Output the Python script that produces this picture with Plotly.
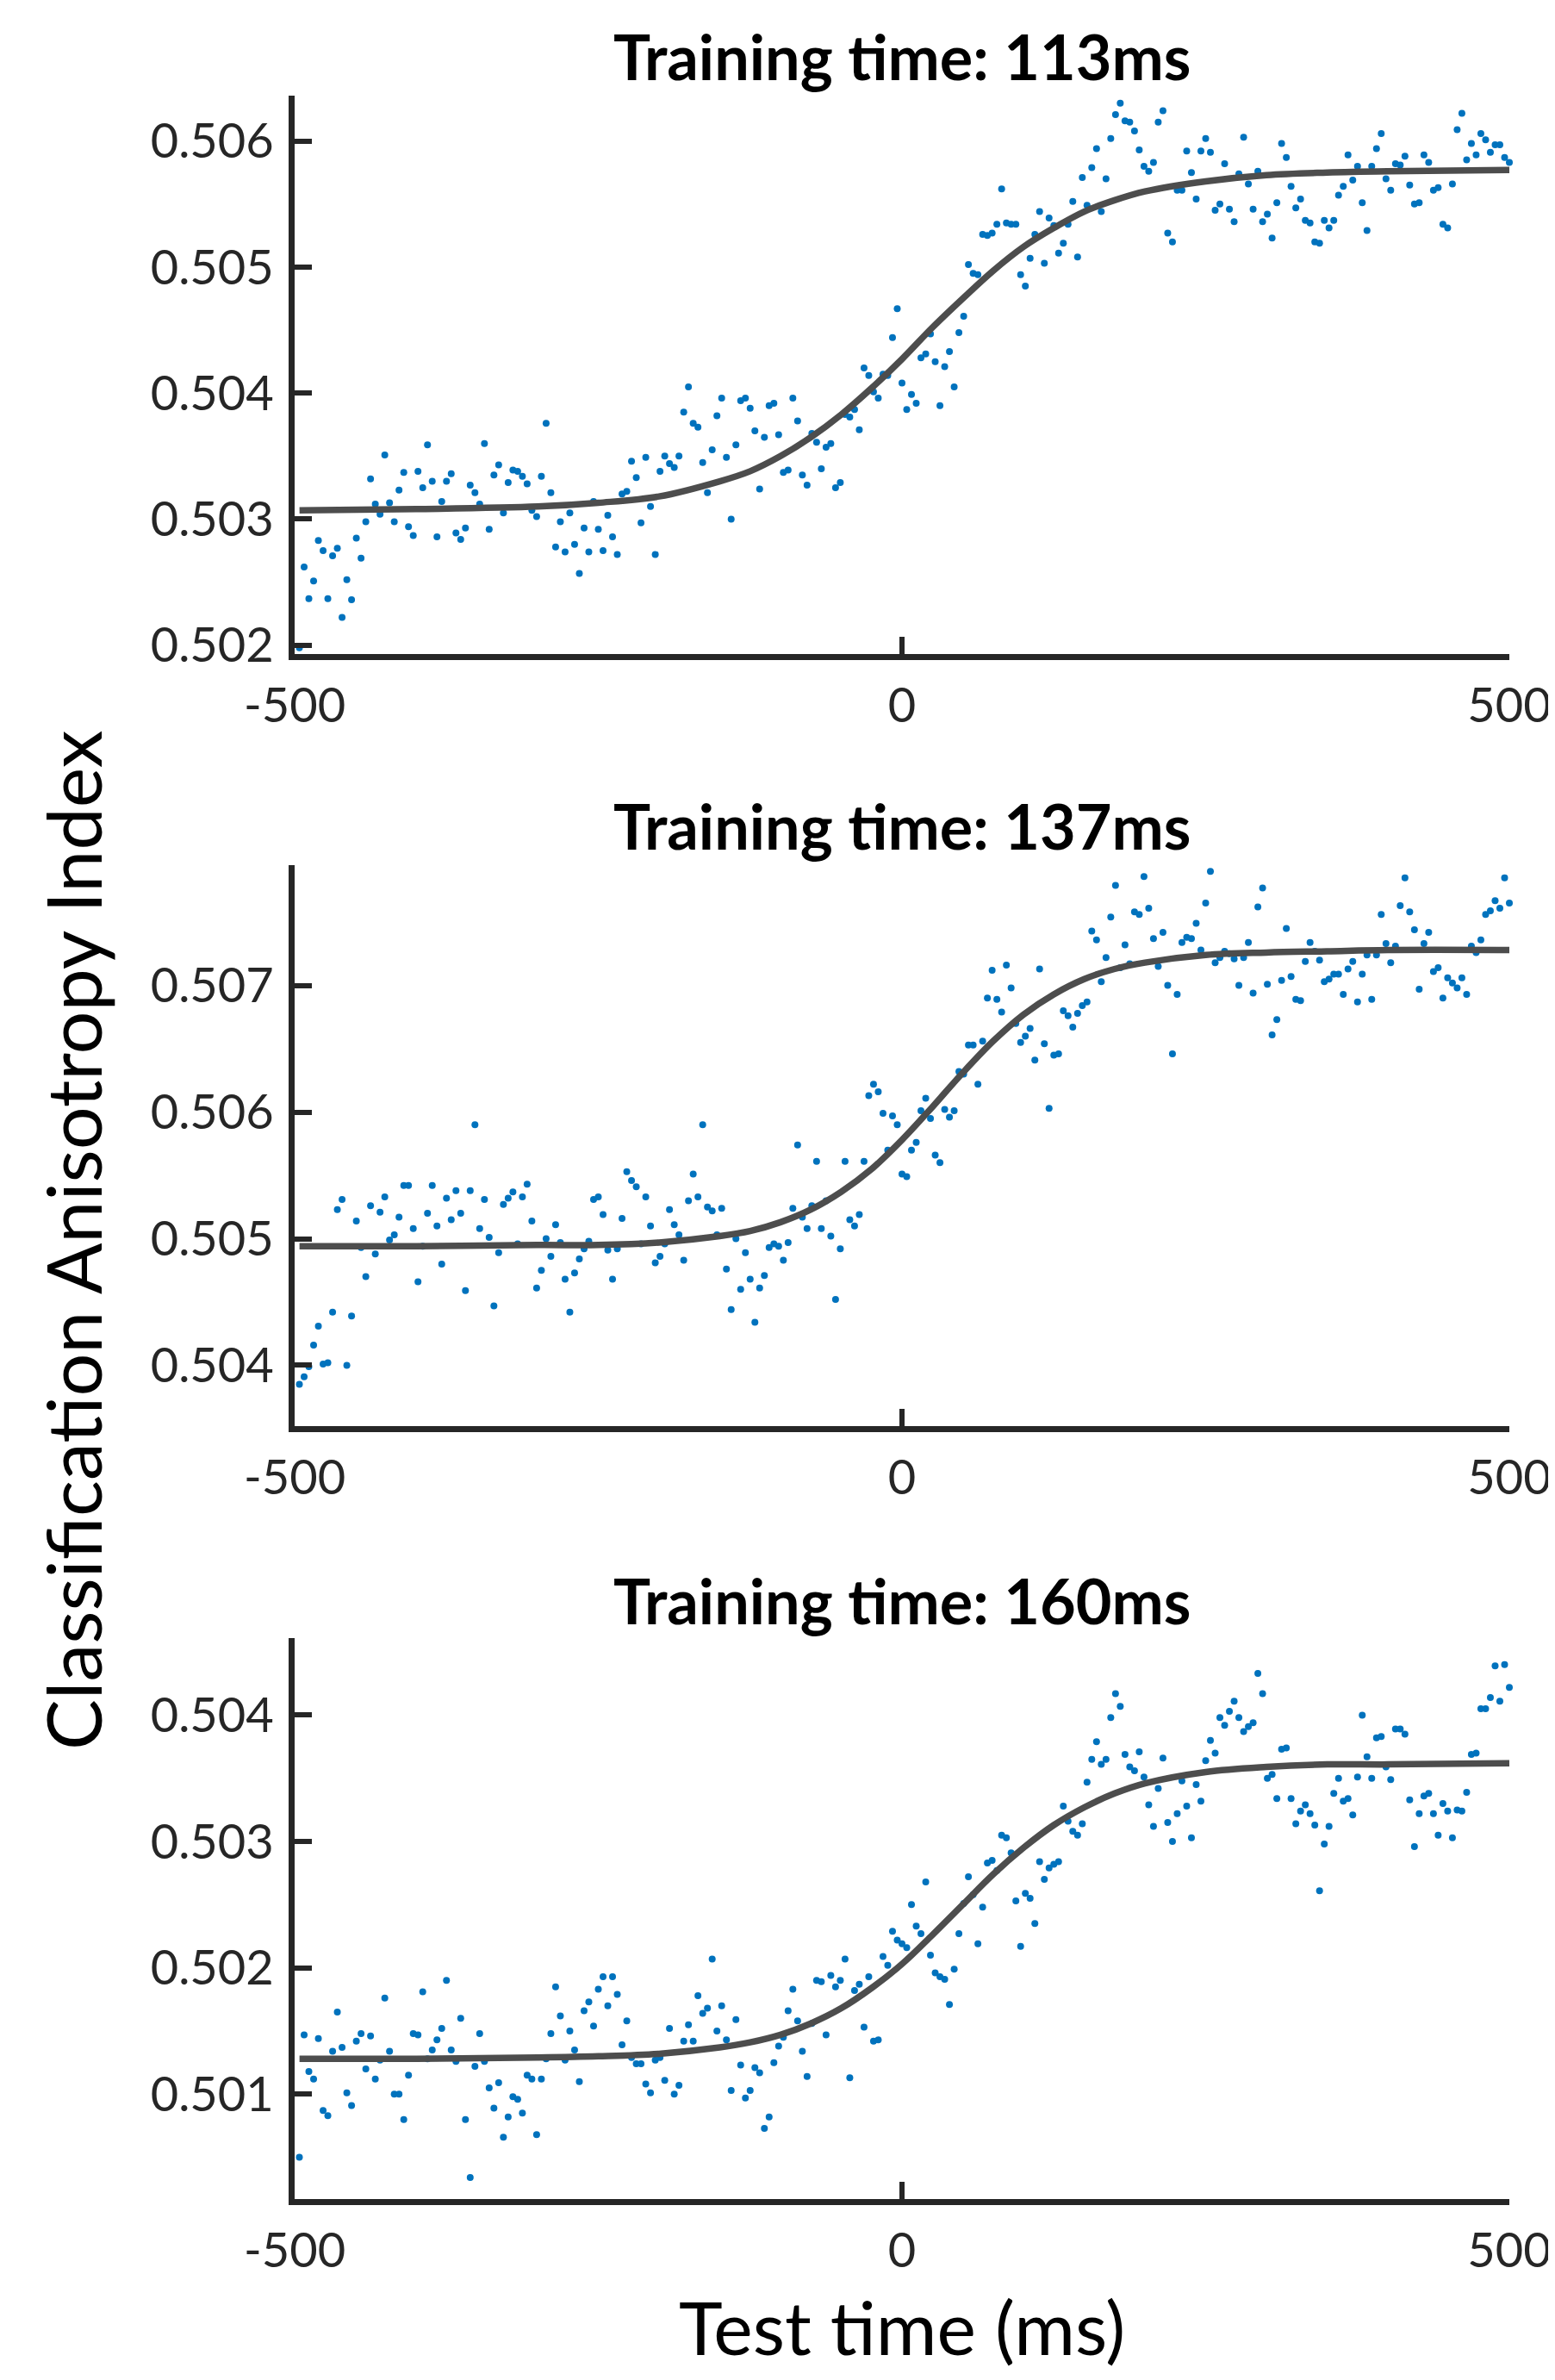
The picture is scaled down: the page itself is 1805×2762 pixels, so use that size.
import numpy as np
import plotly.graph_objects as go

# ---------------- data ----------------
titles = ["Training time: 113ms", "Training time: 137ms", "Training time: 160ms"]
x_label = "Test time (ms)"
y_label = "Classification Anisotropy Index"

x_ticks = [-500, 0, 500]
x_ticktext = ["-500", "0", "500"]
t_start, t_end = -496.09375, 500.0   # time grid of the samples (ms)

p1_values = [
    0.50198, 0.50262, 0.50237, 0.50251, 0.50283, 0.50275, 0.50237, 0.50271, 0.50277, 0.50222,
    0.50252, 0.50236, 0.50285, 0.50269, 0.50298, 0.50332, 0.50312, 0.50304, 0.50351, 0.50313,
    0.50298, 0.50323, 0.50337, 0.50294, 0.50287, 0.50338, 0.50325, 0.50359, 0.50330, 0.50286,
    0.50314, 0.50330, 0.50336, 0.50289, 0.50284, 0.50293, 0.50327, 0.50321, 0.50312, 0.50360,
    0.50292, 0.50335, 0.50343, 0.50305, 0.50329, 0.50339, 0.50338, 0.50334, 0.50328, 0.50307,
    0.50302, 0.50334, 0.50376, 0.50321, 0.50278, 0.50298, 0.50274, 0.50305, 0.50280, 0.50257,
    0.50293, 0.50274, 0.50314, 0.50292, 0.50275, 0.50303, 0.50286, 0.50272, 0.50320, 0.50322,
    0.50346, 0.50333, 0.50297, 0.50349, 0.50310, 0.50272, 0.50338, 0.50350, 0.50344, 0.50341,
    0.50350, 0.50385, 0.50405,
    0.50376, 0.50373, 0.50345, 0.50321, 0.50355, 0.50382, 0.50396,
    0.50349, 0.50300, 0.50359, 0.50394, 0.50396, 0.50388, 0.50370, 0.50324, 0.50365, 0.50390,
    0.50392, 0.50367, 0.50337, 0.50339, 0.50396, 0.50378, 0.50335, 0.50327, 0.50368, 0.50361,
    0.50340, 0.50357, 0.50360, 0.50325, 0.50329, 0.50383, 0.50381, 0.50387, 0.50371, 0.50420,
    0.50414, 0.50401, 0.50396, 0.50415, 0.50414, 0.50444, 0.50467, 0.50408, 0.50387, 0.50399,
    0.50392, 0.50428, 0.50431, 0.50447, 0.50425, 0.50390, 0.50421, 0.50433, 0.50405, 0.50448,
    0.50461, 0.50502, 0.50495, 0.50494, 0.50526, 0.50525, 0.50527, 0.50534, 0.50562, 0.50535,
    0.50534, 0.50534, 0.50494, 0.50485, 0.50507, 0.50526, 0.50544, 0.50503, 0.50539, 0.50533,
    0.50511, 0.50519, 0.50534, 0.50552, 0.50508, 0.50571, 0.50549, 0.50579, 0.50594, 0.50544,
    0.50570, 0.50602, 0.50621, 0.50630, 0.50616, 0.50615, 0.50608, 0.50593, 0.50580, 0.50576,
    0.50583, 0.50615, 0.50624, 0.50527, 0.50520, 0.50561, 0.50561, 0.50592, 0.50575, 0.50554,
    0.50592, 0.50602, 0.50591, 0.50545, 0.50550, 0.50582, 0.50546, 0.50536, 0.50574, 0.50603,
    0.50566, 0.50546, 0.50576, 0.50536, 0.50542, 0.50523, 0.50551, 0.50598, 0.50587, 0.50564,
    0.50547, 0.50554, 0.50537, 0.50535, 0.50520, 0.50519, 0.50537, 0.50531, 0.50537, 0.50557,
    0.50564, 0.50589, 0.50569, 0.50580, 0.50551, 0.50529, 0.50580, 0.50594, 0.50606, 0.50570,
    0.50561, 0.50582, 0.50581, 0.50588, 0.50565, 0.50550, 0.50551, 0.50589, 0.50583, 0.50561,
    0.50563, 0.50534, 0.50531, 0.50566, 0.50609, 0.50622, 0.50585, 0.50598, 0.50589, 0.50606,
    0.50601, 0.50591, 0.50597, 0.50597, 0.50587, 0.50583,
]

p2_values = [
    0.50385, 0.50391, 0.50399, 0.50416, 0.50431, 0.50401, 0.50402, 0.50442, 0.50523, 0.50531,
    0.50400, 0.50439, 0.50514, 0.50493, 0.50470, 0.50526, 0.50488, 0.50521, 0.50533, 0.50499,
    0.50503, 0.50517, 0.50542, 0.50542, 0.50508, 0.50466, 0.50494, 0.50520, 0.50542, 0.50510,
    0.50480, 0.50532, 0.50515, 0.50538, 0.50520, 0.50459, 0.50538, 0.50590, 0.50508, 0.50531,
    0.50501, 0.50447, 0.50489, 0.50527, 0.50532, 0.50537, 0.50496, 0.50533, 0.50543, 0.50514,
    0.50461, 0.50475, 0.50500, 0.50486, 0.50511, 0.50497, 0.50468, 0.50442, 0.50473, 0.50484,
    0.50492, 0.50498, 0.50531, 0.50533, 0.50519, 0.50491, 0.50468, 0.50492, 0.50516, 0.50553,
    0.50546, 0.50541, 0.50496, 0.50533, 0.50510, 0.50481, 0.50486, 0.50496, 0.50523, 0.50511,
    0.50503, 0.50483, 0.50530,
    0.50551, 0.50533, 0.50590, 0.50525, 0.50522, 0.50503, 0.50524,
    0.50476, 0.50444, 0.50500, 0.50460, 0.50489, 0.50468, 0.50434, 0.50461, 0.50471, 0.50493,
    0.50496, 0.50494, 0.50483, 0.50497, 0.50524, 0.50574, 0.50517, 0.50508, 0.50526, 0.50561,
    0.50508, 0.50530, 0.50502, 0.50452, 0.50492, 0.50561, 0.50515, 0.50510, 0.50519, 0.50561,
    0.50613, 0.50622, 0.50616, 0.50599, 0.50570, 0.50597, 0.50590, 0.50551, 0.50549, 0.50570,
    0.50576, 0.50601, 0.50611, 0.50595, 0.50566, 0.50560, 0.50602, 0.50596, 0.50601, 0.50632,
    0.50630, 0.50653, 0.50653, 0.50622, 0.50656, 0.50690, 0.50712, 0.50689, 0.50679, 0.50716,
    0.50698, 0.50670, 0.50655, 0.50660, 0.50666, 0.50641, 0.50713, 0.50654, 0.50603, 0.50645,
    0.50646, 0.50680, 0.50676, 0.50667, 0.50678, 0.50684, 0.50687, 0.50743, 0.50736, 0.50703,
    0.50722, 0.50754, 0.50779, 0.50714, 0.50732, 0.50717, 0.50758, 0.50756, 0.50786, 0.50761,
    0.50737, 0.50715, 0.50742, 0.50700, 0.50646, 0.50693, 0.50734, 0.50738, 0.50737, 0.50749,
    0.50728, 0.50765, 0.50790, 0.50718, 0.50722, 0.50727, 0.50725, 0.50721, 0.50700, 0.50722,
    0.50734, 0.50694, 0.50762, 0.50777, 0.50701, 0.50661, 0.50673, 0.50704, 0.50745, 0.50707,
    0.50689, 0.50688, 0.50719, 0.50734, 0.50727, 0.50720, 0.50703, 0.50705, 0.50709, 0.50709,
    0.50693, 0.50713, 0.50719, 0.50687, 0.50709, 0.50724, 0.50689, 0.50724, 0.50756, 0.50733,
    0.50718, 0.50731, 0.50763, 0.50785, 0.50758, 0.50744, 0.50697, 0.50733, 0.50742, 0.50711,
    0.50714, 0.50690, 0.50706, 0.50702, 0.50698, 0.50706, 0.50693, 0.50731, 0.50726, 0.50736,
    0.50756, 0.50759, 0.50767, 0.50761, 0.50785, 0.50765,
]

p3_values = [
    0.50050, 0.50147, 0.50118, 0.50112, 0.50144, 0.50087, 0.50083, 0.50134, 0.50165, 0.50137,
    0.50101, 0.50091, 0.50142, 0.50148, 0.50120, 0.50146, 0.50112, 0.50127, 0.50176, 0.50134,
    0.50100, 0.50100, 0.50080, 0.50115, 0.50148, 0.50147, 0.50181, 0.50128, 0.50135, 0.50143,
    0.50152, 0.50190, 0.50135, 0.50126, 0.50160, 0.50080, 0.50034, 0.50122, 0.50148, 0.50126,
    0.50105, 0.50089, 0.50109, 0.50066, 0.50082, 0.50098, 0.50096, 0.50085, 0.50115, 0.50112,
    0.50068, 0.50112, 0.50128, 0.50148, 0.50185, 0.50162, 0.50127, 0.50150, 0.50135, 0.50110,
    0.50166, 0.50173, 0.50154, 0.50183, 0.50193, 0.50170, 0.50193, 0.50179, 0.50139, 0.50158,
    0.50129, 0.50124, 0.50124, 0.50108, 0.50101, 0.50127, 0.50129, 0.50111, 0.50152, 0.50100,
    0.50107, 0.50142, 0.50155,
    0.50142, 0.50178, 0.50164, 0.50168, 0.50207, 0.50150, 0.50170,
    0.50143, 0.50103, 0.50159, 0.50123, 0.50097, 0.50103, 0.50121, 0.50117, 0.50073, 0.50082,
    0.50125, 0.50138, 0.50145, 0.50166, 0.50183, 0.50158, 0.50134, 0.50114, 0.50156, 0.50190,
    0.50189, 0.50147, 0.50194, 0.50185, 0.50190, 0.50207, 0.50113, 0.50182, 0.50187, 0.50153,
    0.50193, 0.50142, 0.50143, 0.50209, 0.50202, 0.50229, 0.50222, 0.50219, 0.50216, 0.50250,
    0.50233, 0.50227, 0.50268, 0.50210, 0.50196, 0.50193, 0.50191, 0.50171, 0.50199, 0.50227,
    0.50251, 0.50272, 0.50258, 0.50219, 0.50248, 0.50283, 0.50285, 0.50277, 0.50305, 0.50303,
    0.50291, 0.50253, 0.50217, 0.50259, 0.50255, 0.50235, 0.50284, 0.50270, 0.50279, 0.50282,
    0.50284, 0.50328, 0.50316, 0.50308, 0.50305, 0.50314, 0.50347, 0.50365, 0.50379, 0.50361,
    0.50365, 0.50398, 0.50417, 0.50407, 0.50369, 0.50359, 0.50356, 0.50371, 0.50351, 0.50329,
    0.50312, 0.50342, 0.50366, 0.50315, 0.50300, 0.50322, 0.50348, 0.50328, 0.50303, 0.50345,
    0.50332, 0.50364, 0.50380, 0.50370, 0.50398, 0.50392, 0.50403, 0.50411, 0.50398, 0.50387,
    0.50391, 0.50394, 0.50433, 0.50417, 0.50350, 0.50353, 0.50334, 0.50373, 0.50374, 0.50334,
    0.50314, 0.50324, 0.50329, 0.50322, 0.50313, 0.50261, 0.50298, 0.50312, 0.50338, 0.50350,
    0.50332, 0.50334, 0.50321, 0.50351, 0.50400, 0.50367, 0.50350, 0.50382, 0.50383, 0.50359,
    0.50349, 0.50389, 0.50389, 0.50385, 0.50333, 0.50296, 0.50322, 0.50336, 0.50338, 0.50322,
    0.50305, 0.50330, 0.50324, 0.50303, 0.50325, 0.50324, 0.50339, 0.50369, 0.50370, 0.50405,
    0.50405, 0.50414, 0.50439, 0.50411, 0.50440, 0.50422,
]

# fitted sigmoid curves at these test times (ms)
fit_x = [-496, -400, -300, -250, -200, -150, -125, -100, -75, -50, -25, 0, 25, 50, 75, 100,
         125, 150, 175, 200, 250, 300, 350, 400, 500]
fit1_y = [0.50307, 0.50308, 0.50310, 0.50313, 0.50318, 0.50330, 0.50338, 0.50350, 0.50365, 0.50383,
          0.50404, 0.50427, 0.50452, 0.50475, 0.50497, 0.50516, 0.50531, 0.50544, 0.50553, 0.50560,
          0.50568, 0.50573, 0.50575, 0.50576, 0.50577]
fit2_y = [0.50494, 0.50494, 0.50495, 0.50495, 0.50497, 0.50502, 0.50506, 0.50513, 0.50523, 0.50537,
          0.50555, 0.50578, 0.50604, 0.50631, 0.50656, 0.50677, 0.50693, 0.50705, 0.50713, 0.50718,
          0.50724, 0.50726, 0.50727, 0.50728, 0.50728]
fit3_y = [0.50128, 0.50128, 0.50129, 0.50130, 0.50132, 0.50137, 0.50141, 0.50147, 0.50156, 0.50168,
          0.50184, 0.50203, 0.50226, 0.50250, 0.50274, 0.50295, 0.50313, 0.50327, 0.50338, 0.50346,
          0.50355, 0.50359, 0.50361, 0.50361, 0.50362]

y_ticks = [[0.502, 0.503, 0.504, 0.505, 0.506],
           [0.504, 0.505, 0.506, 0.507],
           [0.501, 0.502, 0.503, 0.504]]
y_ticktext = [["0.502", "0.503", "0.504", "0.505", "0.506"],
              ["0.504", "0.505", "0.506", "0.507"],
              ["0.501", "0.502", "0.503", "0.504"]]
y_ranges = [[0.50193, 0.50636], [0.50352, 0.50795], [0.50017, 0.50461]]

# ---------------- layout geometry ----------------
# the page body has an 8px margin: the figure starts at (8, 8); its height must
# leave room for the bottom margin too (no scrollbar), its width may reach the edge
OFF = 8
W, H = 1805 - OFF, 2762 - 2 * OFF


def fx(px):
    return (px - OFF) / W


def fy(py):
    return 1 - (py - OFF) / H


x_dom = [fx(342), fx(1752)]
panel_px = [(111, 759), (1004, 1655), (1901, 2552)]   # top, bottom page rows
title_px = [65, 958, 1857]

FONT = "Lato"
AX = "#262626"
DOT = "#0072BD"
FIT = "#4d4d4d"

series = [p1_values, p2_values, p3_values]
fits = [fit1_y, fit2_y, fit3_y]

fig = go.Figure()
for k in range(3):
    vals = series[k]
    t = np.linspace(t_start, t_end, len(vals))
    sfx = "" if k == 0 else str(k + 1)
    fig.add_trace(go.Scatter(x=t, y=vals, mode="markers",
                             marker=dict(color=DOT, size=8, line=dict(width=0)),
                             xaxis="x" + sfx, yaxis="y" + sfx, showlegend=False,
                             cliponaxis=False))
    fig.add_trace(go.Scatter(x=fit_x, y=fits[k], mode="lines",
                             line=dict(color=FIT, width=7.5, shape="spline", smoothing=1.0),
                             xaxis="x" + sfx, yaxis="y" + sfx, showlegend=False))

layout = dict(width=W, height=H, margin=dict(l=0, r=0, t=0, b=0, pad=0, autoexpand=False),
              paper_bgcolor="white", plot_bgcolor="white",
              font=dict(family=FONT, color=AX), showlegend=False)

for k in range(3):
    sfx = "" if k == 0 else str(k + 1)
    top, bot = panel_px[k]
    ydom = [fy(bot), fy(top)]
    layout["xaxis" + sfx] = dict(
        domain=x_dom, range=[-500, 500], anchor="y" + sfx, automargin=False,
        tickmode="array", tickvals=x_ticks, ticktext=x_ticktext,
        showline=True, linecolor=AX, linewidth=7, mirror=False,
        ticks="inside", ticklen=20, tickwidth=6, tickcolor=AX,
        showgrid=False, zeroline=False, ticklabelstandoff=5,
        ticklabeloverflow="allow",
        tickfont=dict(family=FONT, size=56, color=AX))
    layout["yaxis" + sfx] = dict(
        domain=ydom, range=y_ranges[k], anchor="x" + sfx, automargin=False,
        tickmode="array", tickvals=y_ticks[k], ticktext=y_ticktext[k],
        showline=True, linecolor=AX, linewidth=7, mirror=False,
        ticks="inside", ticklen=20, tickwidth=6, tickcolor=AX,
        showgrid=False, zeroline=False, ticklabelstandoff=6,
        ticklabeloverflow="allow",
        tickfont=dict(family=FONT, size=56, color=AX))

annotations = []
xc = fx((342 + 1752) / 2)
for k in range(3):
    annotations.append(dict(text="<b>" + titles[k] + "</b>", xref="paper", yref="paper",
                            x=xc, y=fy(title_px[k]), xanchor="center", yanchor="middle",
                            showarrow=False, font=dict(family=FONT, size=72, color="black")))
annotations.append(dict(text=y_label, xref="paper", yref="paper", x=fx(84), y=fy(1440),
                        xanchor="center", yanchor="middle", textangle=-90, showarrow=False,
                        font=dict(family=FONT, size=88, color="black")))
annotations.append(dict(text=x_label, xref="paper", yref="paper", x=fx(1047), y=fy(2699),
                        xanchor="center", yanchor="middle", showarrow=False,
                        font=dict(family=FONT, size=86, color="black")))
layout["annotations"] = annotations

fig.update_layout(**layout)
fig.write_html("out.html")
